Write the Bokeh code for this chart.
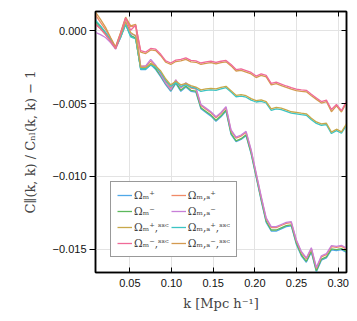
import numpy as np
from bokeh.plotting import figure
from bokeh.models import (Range1d, FixedTicker, CustomJSTickFormatter, LinearAxis,
                          Legend, LegendItem)
from bokeh.embed import file_html
from bokeh.resources import INLINE

# k grid (h/Mpc)
k = np.linspace(0.0088, 0.31, 51)

# values in units of 1e-3
om_p = [0.55, 0.20, -0.20, -0.65, -1.15, -0.40, 0.45, -0.35, -0.45,
        -2.65, -2.65, -2.30, -2.65, -3.15, -3.70, -4.15, -3.60, -4.15, -3.85, -4.15, -4.20,
        -5.35, -5.60, -5.85, -6.20, -5.90, -5.50, -7.10, -7.60, -7.45, -7.20, -8.45, -10.05,
        -11.65, -13.15, -13.75, -13.75, -13.60, -13.45, -13.40, -14.65, -15.45, -15.90, -15.20,
        -16.55, -15.75, -15.60, -15.05, -15.10, -15.03, -15.22]
om_m = [0.65, 0.30, -0.15, -0.65, -1.20, -0.40, 0.50, -0.30, -0.50,
        -2.58, -2.58, -2.23, -2.58, -3.08, -3.63, -4.08, -3.53, -4.08, -3.78, -4.08, -4.13,
        -5.28, -5.53, -5.78, -6.13, -5.83, -5.43, -7.03, -7.55, -7.40, -7.13, -8.38, -9.98,
        -11.58, -13.08, -13.68, -13.68, -13.53, -13.38, -13.33, -14.58, -15.38, -15.83, -15.13,
        -16.48, -15.68, -15.53, -14.98, -15.03, -14.96, -15.15]
om_p_ssc = [0.50, 0.15, -0.25, -0.70, -1.20, -0.30, 0.65, -0.10, -0.35,
            -2.50, -2.50, -2.25, -2.40, -2.75, -3.30, -3.70, -3.45, -3.70, -3.60, -3.75, -3.85,
            -4.05, -3.98, -3.94, -3.98, -3.88, -3.80, -4.10, -4.42, -4.38, -4.45, -4.65, -4.78,
            -4.73, -4.85, -5.35, -5.25, -5.30, -5.42, -5.55, -5.60, -5.65, -5.69, -6.00,
            -6.25, -6.38, -6.34, -6.95, -6.75, -6.93, -6.38]
om_m_ssc = [0.45, 0.15, -0.25, -0.70, -1.20, -0.20, 0.90, 0.05, 0.40,
            -1.35, -1.45, -1.20, -1.25, -1.60, -2.05, -2.20, -2.00, -1.95, -1.85, -2.02, -2.05,
            -2.20, -2.12, -2.08, -2.16, -2.08, -2.02, -2.30, -2.65, -2.60, -2.72, -2.85, -3.10,
            -2.95, -3.05, -3.60, -3.52, -3.65, -3.78, -3.90, -4.00, -4.05, -4.08, -4.35,
            -4.60, -4.85, -4.75, -5.40, -5.05, -5.47, -4.83]
oma_p = [1.10, 0.60, 0.10, -0.50, -1.10, -0.15, 0.85, 0.30, 0.35,
         -2.42, -2.42, -2.07, -2.42, -2.92, -3.47, -3.92, -3.37, -3.92, -3.62, -3.92, -3.97,
         -5.12, -5.37, -5.62, -5.97, -5.67, -5.27, -6.87, -7.37, -7.22, -6.97, -8.22, -9.82,
         -11.42, -12.92, -13.52, -13.52, -13.37, -13.22, -13.17, -14.42, -15.22, -15.67, -14.97,
         -16.32, -15.52, -15.37, -14.82, -14.87, -14.80, -14.99]
oma_m = [-0.10, -0.25, -0.45, -0.80, -1.25, -0.45, 0.55, -0.20, -0.30,
         -2.45, -2.40, -1.95, -2.35, -3.00, -3.60, -4.05, -3.35, -3.90, -3.55, -3.85, -3.90,
         -5.05, -5.30, -5.55, -5.90, -5.60, -5.20, -6.80, -7.30, -7.15, -6.90, -8.15, -9.75,
         -11.35, -12.85, -13.45, -13.45, -13.30, -13.15, -13.10, -14.35, -15.15, -15.60, -14.90,
         -16.25, -15.45, -15.30, -14.75, -14.80, -14.73, -14.92]
oma_p_ssc = [0.75, 0.35, -0.10, -0.60, -1.15, -0.45, 0.45, -0.40, -0.55,
             -2.60, -2.60, -2.35, -2.50, -2.85, -3.40, -3.80, -3.55, -3.80, -3.70, -3.85, -3.95,
             -4.15, -4.08, -4.04, -4.08, -3.98, -3.90, -4.20, -4.52, -4.48, -4.55, -4.75, -4.88,
             -4.83, -4.95, -5.45, -5.35, -5.40, -5.52, -5.65, -5.70, -5.75, -5.79, -6.10,
             -6.35, -6.48, -6.44, -7.05, -6.85, -7.03, -6.48]
oma_m_ssc = [1.30, 0.80, 0.25, -0.45, -1.10, -0.10, 0.95, 0.35, 0.45,
             -1.45, -1.55, -1.30, -1.35, -1.70, -2.15, -2.30, -2.10, -2.05, -1.95, -2.12, -2.15,
             -2.30, -2.22, -2.18, -2.26, -2.18, -2.12, -2.40, -2.75, -2.70, -2.82, -2.95, -3.20,
             -3.05, -3.15, -3.70, -3.62, -3.75, -3.88, -4.00, -4.10, -4.15, -4.18, -4.45,
             -4.70, -4.95, -4.85, -5.55, -5.15, -5.57, -4.93]

labels = ["Ωₘ⁺", "Ωₘ⁻", "Ωₘ⁺,ˢˢᶜ", "Ωₘ⁻,ˢˢᶜ",
          "Ωₘ,ₐ⁺", "Ωₘ,ₐ⁻", "Ωₘ,ₐ⁺,ˢˢᶜ", "Ωₘ,ₐ⁻,ˢˢᶜ"]
series = [om_p, om_m, om_p_ssc, om_m_ssc, oma_p, oma_m, oma_p_ssc, oma_m_ssc]
colors = ["#4fa8e8", "#5cb85c", "#c8a84a", "#f06a98",
          "#f08a68", "#c77fd8", "#3cc4c4", "#d49a50"]
draw_order = [0, 1, 4, 5, 6, 2, 7, 3]

x_ticks = [0.05, 0.10, 0.15, 0.20, 0.25, 0.30]
y_ticks = [0.0, -0.005, -0.010, -0.015]

p = figure(width=353, height=313, output_backend="svg", toolbar_location=None,
           x_range=Range1d(0.0088, 0.31), y_range=Range1d(-0.0166, 0.00134),
           min_border_left=95, min_border_right=7, min_border_top=11, min_border_bottom=41)
p.outline_line_color = "black"
p.outline_line_width = 1.5
p.background_fill_color = "white"
p.border_fill_color = "white"

renderers = [None] * len(series)
for idx in draw_order:
    renderers[idx] = p.line(k, np.array(series[idx]) * 1e-3, line_color=colors[idx],
                            line_width=1.3)

tick_font = "Liberation Sans"
for ax in p.xaxis:
    ax.ticker = FixedTicker(ticks=x_ticks)
    ax.formatter = CustomJSTickFormatter(code="return tick.toFixed(2);")
    ax.major_tick_in = 5
    ax.major_tick_out = 0
    ax.minor_tick_line_color = None
    ax.axis_line_width = 1.5
    ax.major_label_text_font = tick_font
    ax.major_label_text_font_size = "11px"
    ax.major_label_text_color = "#111111"
    ax.major_label_standoff = 6
    ax.axis_label = "k [Mpc h⁻¹]"
    ax.axis_label_text_font = "DejaVu Serif"
    ax.axis_label_text_font_style = "normal"
    ax.axis_label_text_font_size = "13px"
    ax.axis_label_standoff = 6
for ax in p.yaxis:
    ax.ticker = FixedTicker(ticks=y_ticks)
    ax.formatter = CustomJSTickFormatter(code="return tick.toFixed(3).replace('-', '\u2212');")
    ax.major_tick_in = 0
    ax.major_tick_out = 6
    ax.minor_tick_line_color = None
    ax.axis_line_width = 1.5
    ax.major_label_text_font = tick_font
    ax.major_label_text_font_size = "11px"
    ax.major_label_text_color = "#111111"
    ax.major_label_standoff = 3
    ax.axis_label = "C∥(k, k) / Cₙₗ(k, k) − 1"
    ax.axis_label_text_font = "DejaVu Serif"
    ax.axis_label_text_font_style = "normal"
    ax.axis_label_text_font_size = "13px"
    ax.axis_label_standoff = 12

# mirrored inner ticks on top and right
for loc in ("above", "right"):
    a = LinearAxis(ticker=FixedTicker(ticks=x_ticks if loc == "above" else y_ticks),
                   major_tick_in=5, major_tick_out=0, minor_tick_line_color=None,
                   major_label_text_font_size="0px", major_label_standoff=0,
                   axis_line_width=1.5)
    a.formatter = CustomJSTickFormatter(code="return '';")
    p.add_layout(a, loc)

p.xgrid.grid_line_color = "#e3e3e3"
p.ygrid.grid_line_color = "#e3e3e3"
p.xgrid.ticker = FixedTicker(ticks=x_ticks)
p.ygrid.ticker = FixedTicker(ticks=y_ticks)

items = [LegendItem(label=lab, renderers=[r]) for lab, r in zip(labels, renderers)]
legend = Legend(items=items, location=(15, 15), nrows=4,
                label_text_font="DejaVu Serif", label_text_font_size="10.5px",
                glyph_width=15, glyph_height=14, label_standoff=2, spacing=2,
                padding=6, margin=0, border_line_color="#333333", border_line_width=1.5,
                background_fill_color="white", background_fill_alpha=1.0,
                label_height=14)
p.add_layout(legend, "center")

open("out.html", "w").write(file_html(p, INLINE))
